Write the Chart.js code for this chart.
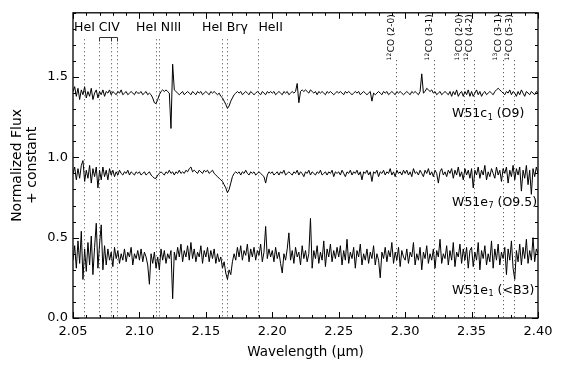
<!DOCTYPE html>
<html>
<head>
<meta charset="utf-8">
<script src="https://cdn.jsdelivr.net/npm/chart.js@4.4.0/dist/chart.umd.min.js"></script>
<style>
  html, body { margin: 0; padding: 0; background: #fff; }
  canvas { display: block; }
</style>
</head>
<body>
<canvas id="chart" width="564" height="371"></canvas>
<script>
// wavelength grid of the spectra (micron)
const WL_START = 2.05;
const WL_STEP = 0.00125;

// W51c1 (O9), offset to ~1.4
const fluxC1 = [
  1.41, 1.44, 1.38, 1.43, 1.36, 1.42, 1.39, 1.44, 1.37, 1.41, 1.38, 1.43, 1.36, 1.40, 1.42, 1.37, 1.41, 1.39, 1.42, 1.38,
  1.41, 1.40, 1.42, 1.39, 1.41, 1.40, 1.39, 1.41, 1.40, 1.42, 1.39, 1.40, 1.41, 1.39, 1.40, 1.41, 1.40, 1.39, 1.41, 1.40,
  1.40, 1.41, 1.39, 1.40, 1.41, 1.39, 1.40, 1.39, 1.37, 1.34, 1.335, 1.36, 1.39, 1.41, 1.42, 1.41, 1.42, 1.41, 1.40, 1.18,
  1.58, 1.42, 1.41, 1.40, 1.39, 1.40, 1.41, 1.39, 1.40, 1.41, 1.40, 1.39, 1.41, 1.40, 1.39, 1.41, 1.40, 1.41, 1.39, 1.40,
  1.41, 1.40, 1.39, 1.41, 1.40, 1.41, 1.40, 1.39, 1.40, 1.38, 1.37, 1.35, 1.33, 1.305, 1.32, 1.35, 1.37, 1.39, 1.40, 1.41,
  1.40, 1.41, 1.39, 1.40, 1.41, 1.40, 1.39, 1.41, 1.40, 1.39, 1.40, 1.41, 1.40, 1.39, 1.41, 1.40, 1.39, 1.41, 1.40, 1.41,
  1.40, 1.41, 1.39, 1.40, 1.41, 1.40, 1.39, 1.41, 1.40, 1.41, 1.39, 1.40, 1.41, 1.40, 1.41, 1.46, 1.34, 1.41, 1.42, 1.41,
  1.42, 1.41, 1.40, 1.42, 1.41, 1.40, 1.41, 1.39, 1.41, 1.40, 1.41, 1.40, 1.39, 1.41, 1.40, 1.41, 1.40, 1.39, 1.40, 1.41,
  1.40, 1.41, 1.40, 1.39, 1.41, 1.40, 1.41, 1.40, 1.39, 1.40, 1.41, 1.40, 1.41, 1.39, 1.40, 1.41, 1.40, 1.39, 1.40, 1.41,
  1.35, 1.40, 1.39, 1.40, 1.41, 1.40, 1.39, 1.41, 1.40, 1.41, 1.39, 1.40, 1.41, 1.40, 1.39, 1.41, 1.40, 1.41, 1.40, 1.39,
  1.40, 1.41, 1.40, 1.39, 1.41, 1.40, 1.41, 1.40, 1.39, 1.41, 1.52, 1.40, 1.41, 1.43, 1.42, 1.41, 1.42, 1.40, 1.41, 1.39,
  1.40, 1.41, 1.39, 1.40, 1.41, 1.40, 1.39, 1.41, 1.38, 1.41, 1.39, 1.42, 1.38, 1.40, 1.41, 1.38, 1.41, 1.39, 1.42, 1.38,
  1.41, 1.38, 1.40, 1.42, 1.39, 1.41, 1.38, 1.40, 1.41, 1.39, 1.40, 1.41, 1.40, 1.39, 1.41, 1.42, 1.43, 1.42, 1.41, 1.40,
  1.39, 1.41, 1.40, 1.42, 1.39, 1.41, 1.40, 1.38, 1.41, 1.39, 1.42, 1.40, 1.38, 1.41, 1.40, 1.39, 1.41, 1.40, 1.39, 1.41, 1.40
];

// W51e7 (O9.5), offset to ~0.9
const fluxE7 = [
  0.90, 0.94, 0.86, 0.93, 0.87, 0.95, 0.98, 0.85, 0.92, 0.87, 0.95, 0.84, 0.93, 0.88, 0.94, 0.81, 0.92, 0.86, 0.94, 0.88,
  0.92, 0.86, 0.93, 0.89, 0.92, 0.88, 0.91, 0.89, 0.92, 0.90, 0.89, 0.91, 0.90, 0.92, 0.89, 0.91, 0.90, 0.89, 0.91, 0.90,
  0.91, 0.89, 0.90, 0.91, 0.89, 0.90, 0.91, 0.89, 0.88, 0.87, 0.87, 0.89, 0.90, 0.91, 0.90, 0.89, 0.91, 0.90, 0.92, 0.90,
  0.91, 0.89, 0.91, 0.90, 0.92, 0.90, 0.91, 0.90, 0.92, 0.91, 0.93, 0.94, 0.91, 0.92, 0.91, 0.90, 0.92, 0.91, 0.90, 0.92,
  0.91, 0.92, 0.90, 0.91, 0.92, 0.90, 0.89, 0.88, 0.87, 0.86, 0.85, 0.83, 0.81, 0.78, 0.80, 0.84, 0.88, 0.90, 0.91, 0.90,
  0.91, 0.89, 0.91, 0.90, 0.92, 0.90, 0.89, 0.91, 0.90, 0.91, 0.89, 0.90, 0.91, 0.90, 0.89, 0.88, 0.84, 0.89, 0.91, 0.90,
  0.91, 0.89, 0.90, 0.91, 0.89, 0.91, 0.90, 0.92, 0.89, 0.90, 0.91, 0.90, 0.89, 0.91, 0.90, 0.92, 0.89, 0.91, 0.90, 0.88,
  0.91, 0.90, 0.92, 0.89, 0.91, 0.90, 0.89, 0.91, 0.90, 0.92, 0.89, 0.90, 0.91, 0.89, 0.91, 0.90, 0.92, 0.88, 0.91, 0.90,
  0.91, 0.89, 0.92, 0.90, 0.88, 0.91, 0.90, 0.92, 0.89, 0.91, 0.90, 0.92, 0.89, 0.91, 0.86, 0.91, 0.90, 0.92, 0.89, 0.91,
  0.85, 0.91, 0.90, 0.92, 0.88, 0.91, 0.90, 0.92, 0.89, 0.91, 0.90, 0.93, 0.89, 0.91, 0.88, 0.92, 0.90, 0.91, 0.89, 0.92,
  0.90, 0.92, 0.89, 0.91, 0.88, 0.93, 0.90, 0.91, 0.89, 0.92, 0.90, 0.88, 0.92, 0.90, 0.93, 0.89, 0.91, 0.88, 0.92, 0.90,
  0.84, 0.91, 0.93, 0.89, 0.91, 0.88, 0.92, 0.90, 0.93, 0.87, 0.92, 0.89, 0.94, 0.88, 0.91, 0.86, 0.93, 0.89, 0.92, 0.87,
  0.93, 0.81, 0.92, 0.89, 0.94, 0.87, 0.92, 0.89, 0.95, 0.86, 0.91, 0.88, 0.93, 0.90, 0.87, 0.94, 0.89, 0.92, 0.85, 0.93,
  0.90, 0.94, 0.84, 0.92, 0.88, 0.95, 0.86, 0.93, 0.89, 0.94, 0.79, 0.92, 0.87, 0.95, 0.83, 0.92, 0.77, 0.93, 0.88, 0.94, 0.90
];

// W51e1 (<B3), offset to ~0.38
const fluxE1 = [
  0.36, 0.45, 0.31, 0.48, 0.34, 0.54, 0.24, 0.43, 0.29, 0.47, 0.33, 0.51, 0.27, 0.44, 0.59, 0.31, 0.46, 0.58, 0.30, 0.45,
  0.33, 0.43, 0.36, 0.41, 0.32, 0.44, 0.37, 0.42, 0.34, 0.40, 0.36, 0.43, 0.35, 0.41, 0.38, 0.44, 0.33, 0.40, 0.37, 0.42,
  0.36, 0.43, 0.35, 0.41, 0.38, 0.33, 0.21, 0.40, 0.34, 0.41, 0.31, 0.38, 0.30, 0.43, 0.36, 0.42, 0.34, 0.40, 0.37, 0.42,
  0.12, 0.41, 0.36, 0.44, 0.38, 0.46, 0.35, 0.42, 0.38, 0.45, 0.36, 0.47, 0.37, 0.43, 0.35, 0.41, 0.38, 0.45, 0.34, 0.42,
  0.38, 0.44, 0.35, 0.42, 0.37, 0.43, 0.34, 0.40, 0.35, 0.38, 0.31, 0.35, 0.28, 0.24, 0.30, 0.27, 0.35, 0.40, 0.36, 0.44,
  0.38, 0.45, 0.36, 0.42, 0.39, 0.46, 0.35, 0.43, 0.38, 0.44, 0.36, 0.42, 0.39, 0.46, 0.35, 0.41, 0.57, 0.37, 0.43, 0.38,
  0.42, 0.35, 0.44, 0.37, 0.41, 0.34, 0.28, 0.40, 0.36, 0.43, 0.53, 0.36, 0.42, 0.34, 0.44, 0.38, 0.41, 0.33, 0.45, 0.37,
  0.42, 0.35, 0.40, 0.62, 0.31, 0.42, 0.37, 0.45, 0.34, 0.41, 0.36, 0.48, 0.32, 0.43, 0.38, 0.46, 0.35, 0.42, 0.37, 0.44,
  0.38, 0.45, 0.33, 0.42, 0.36, 0.49, 0.34, 0.41, 0.37, 0.44, 0.31, 0.42, 0.38, 0.46, 0.33, 0.40, 0.36, 0.43, 0.34, 0.41,
  0.37, 0.45, 0.33, 0.40, 0.36, 0.25, 0.41, 0.37, 0.44, 0.35, 0.42, 0.38, 0.47, 0.34, 0.41, 0.36, 0.44, 0.32, 0.42, 0.38,
  0.36, 0.43, 0.34, 0.41, 0.38, 0.47, 0.33, 0.40, 0.36, 0.44, 0.30, 0.41, 0.37, 0.45, 0.34, 0.40, 0.36, 0.43, 0.31, 0.42,
  0.38, 0.49, 0.34, 0.40, 0.37, 0.45, 0.33, 0.42, 0.36, 0.47, 0.32, 0.41, 0.38, 0.46, 0.34, 0.43, 0.36, 0.44, 0.31, 0.42,
  0.44, 0.32, 0.41, 0.36, 0.47, 0.30, 0.42, 0.37, 0.45, 0.33, 0.40, 0.35, 0.48, 0.31, 0.43, 0.36, 0.46, 0.33, 0.41, 0.37,
  0.44, 0.27, 0.43, 0.36, 0.48, 0.31, 0.24, 0.42, 0.35, 0.46, 0.33, 0.44, 0.37, 0.49, 0.34, 0.42, 0.36, 0.50, 0.35, 0.43, 0.40
];

const xTicks = [2.05, 2.10, 2.15, 2.20, 2.25, 2.30, 2.35, 2.40];
const yTicks = [0.0, 0.5, 1.0, 1.5];

// atomic lines: HeI, CIV x3, HeI, NIII, HeI, Brg, HeII
const atomicLines = [2.0585, 2.0695, 2.0783, 2.0833, 2.1125, 2.1148, 2.1625, 2.1660, 2.1890];
const civLines = [2.0695, 2.0783, 2.0833];
const topLabels = ['HeI CIV', 'HeI NIII', 'HeI Br\u03b3', 'HeII'];
const topLabelWl = [2.0508, 2.0975, 2.1471, 2.1896];

// CO bandheads
const coLines = [2.2933, 2.3220, 2.3443, 2.3516, 2.3735, 2.3823];
const coIso = ['12', '12', '13', '12', '13', '12'];
const coBand = ['CO (2-0)', 'CO (3-1)', 'CO (2-0)', 'CO (4-2)', 'CO (3-1)', 'CO (5-3)'];

// star names at right
const starNames = ['W51c', 'W51e', 'W51e'];
const starSubs = ['1', '7', '1'];
const starTypes = [' (O9)', ' (O9.5)', ' (<B3)'];
const starLabelY = [1.250, 0.700, 0.150];
const STAR_LABEL_WL = 2.3353;

const FONT = '"DejaVu Sans", sans-serif';

const toPoints = flux => flux.map((v, i) => ({ x: WL_START + i * WL_STEP, y: v }));

const spectrumDecor = {
  id: 'spectrumDecor',
  beforeDatasetsDraw(chart) {
    const { ctx, chartArea: a, scales: { x, y } } = chart;
    ctx.save();
    ctx.strokeStyle = '#444';
    ctx.lineWidth = 1;
    ctx.setLineDash([1, 3]);
    const vline = (w, top) => {
      const px = Math.round(x.getPixelForValue(w)) + 0.5;
      ctx.beginPath();
      ctx.moveTo(px, top);
      ctx.lineTo(px, a.bottom);
      ctx.stroke();
    };
    atomicLines.forEach(w => vline(w, y.getPixelForValue(1.735)));
    coLines.forEach(w => vline(w, y.getPixelForValue(1.605)));
    ctx.restore();
  },
  afterDraw(chart) {
    const { ctx, chartArea: a, scales: { x, y } } = chart;
    ctx.save();

    // frame
    ctx.strokeStyle = '#000';
    ctx.lineWidth = 1.3;
    ctx.strokeRect(a.left, a.top, a.right - a.left, a.bottom - a.top);

    // inward ticks on all sides
    ctx.lineWidth = 1;
    const xt = (w, len) => {
      const px = Math.round(x.getPixelForValue(w)) + 0.5;
      ctx.beginPath();
      ctx.moveTo(px, a.bottom); ctx.lineTo(px, a.bottom - len);
      ctx.moveTo(px, a.top); ctx.lineTo(px, a.top + len);
      ctx.stroke();
    };
    const yt = (v, len) => {
      const py = Math.round(y.getPixelForValue(v)) + 0.5;
      ctx.beginPath();
      ctx.moveTo(a.left, py); ctx.lineTo(a.left + len, py);
      ctx.moveTo(a.right, py); ctx.lineTo(a.right - len, py);
      ctx.stroke();
    };
    for (let k = 0; k <= 35; k++) xt(2.05 + k * 0.01, k % 5 === 0 ? 6 : 3);
    for (let k = 0; k <= 19; k++) yt(k * 0.1, k % 5 === 0 ? 6 : 3);

    // CIV bracket
    const by = Math.round(y.getPixelForValue(1.747)) + 0.5;
    const cx = civLines.map(w => Math.round(x.getPixelForValue(w)) + 0.5);
    ctx.strokeStyle = '#333';
    ctx.beginPath();
    ctx.moveTo(cx[0], by); ctx.lineTo(cx[2], by);
    cx.forEach(px => { ctx.moveTo(px, by); ctx.lineTo(px, by + 4); });
    ctx.stroke();

    ctx.fillStyle = '#000';
    // atomic line names
    ctx.font = '12.5px ' + FONT;
    ctx.textAlign = 'left';
    ctx.textBaseline = 'alphabetic';
    topLabels.forEach((t, i) => ctx.fillText(t, x.getPixelForValue(topLabelWl[i]), y.getPixelForValue(1.785)));

    // rotated CO labels
    coLines.forEach((w, i) => {
      const px = x.getPixelForValue(w) - 4.5;
      ctx.save();
      ctx.translate(px, a.top + 2);
      ctx.rotate(-Math.PI / 2);
      ctx.textAlign = 'left';
      ctx.textBaseline = 'middle';
      ctx.font = '6px ' + FONT;
      const ws = ctx.measureText(coIso[i]).width;
      ctx.font = '9px ' + FONT;
      const wm = ctx.measureText(coBand[i]).width;
      const x0 = -(ws + wm);
      ctx.font = '6px ' + FONT;
      ctx.fillText(coIso[i], x0, -2.5);
      ctx.font = '9px ' + FONT;
      ctx.fillText(coBand[i], x0 + ws + 0.5, 0);
      ctx.restore();
    });

    // star names with subscripts
    starNames.forEach((n, i) => {
      let px = x.getPixelForValue(STAR_LABEL_WL);
      const py = y.getPixelForValue(starLabelY[i]);
      ctx.textAlign = 'left';
      ctx.textBaseline = 'alphabetic';
      ctx.font = '12.5px ' + FONT;
      ctx.fillText(n, px, py);
      px += ctx.measureText(n).width + 0.5;
      ctx.font = '8px ' + FONT;
      ctx.fillText(starSubs[i], px, py + 2.5);
      px += ctx.measureText(starSubs[i]).width;
      ctx.font = '12.5px ' + FONT;
      ctx.fillText(starTypes[i], px, py);
    });

    // axis titles
    ctx.textAlign = 'center';
    ctx.textBaseline = 'middle';
    ctx.font = '13.5px ' + FONT;
    ctx.fillText('Wavelength (\u03bcm)', (a.left + a.right) / 2, 352);
    ctx.save();
    ctx.translate(17, (a.top + a.bottom) / 2);
    ctx.rotate(-Math.PI / 2);
    ctx.font = '14px ' + FONT;
    ctx.fillText('Normalized Flux', 0, 0);
    ctx.fillText('+ constant', 0, 15);
    ctx.restore();

    ctx.restore();
  }
};

const lineStyle = { borderColor: '#000', borderWidth: 1, pointRadius: 0, tension: 0, fill: false };

new Chart(document.getElementById('chart'), {
  type: 'line',
  data: {
    datasets: [
      { label: 'W51c1', data: toPoints(fluxC1), ...lineStyle },
      { label: 'W51e7', data: toPoints(fluxE7), ...lineStyle },
      { label: 'W51e1', data: toPoints(fluxE1), ...lineStyle }
    ]
  },
  options: {
    responsive: false,
    animation: false,
    devicePixelRatio: 1,
    layout: { padding: { top: 10, right: 26, left: 0, bottom: 0 } },
    plugins: { legend: { display: false }, tooltip: { enabled: false } },
    scales: {
      x: {
        type: 'linear',
        min: 2.05,
        max: 2.40,
        grid: { display: false, drawTicks: false },
        border: { display: false },
        afterBuildTicks: s => { s.ticks = xTicks.map(v => ({ value: v })); },
        afterFit: s => { s.height = 53; },
        ticks: {
          padding: 6, color: '#000', maxRotation: 0, autoSkip: false,
          font: { family: 'DejaVu Sans', size: 13 },
          callback: v => v.toFixed(2)
        }
      },
      y: {
        type: 'linear',
        min: 0,
        max: 1.9,
        grid: { display: false, drawTicks: false },
        border: { display: false },
        afterBuildTicks: s => { s.ticks = yTicks.map(v => ({ value: v })); },
        afterFit: s => { s.width = 73; },
        ticks: {
          padding: 5, color: '#000', autoSkip: false,
          font: { family: 'DejaVu Sans', size: 13 },
          callback: v => v.toFixed(1)
        }
      }
    }
  },
  plugins: [spectrumDecor]
});
</script>
</body>
</html>
